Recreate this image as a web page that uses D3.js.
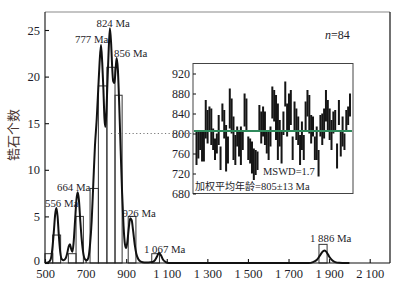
<!DOCTYPE html>
<html>
<head>
<meta charset="utf-8">
<script src="https://cdn.jsdelivr.net/npm/d3@7"></script>
<style>
  body { margin: 0; background: #fff; }
  svg { display: block; }
  text { font-family: "Liberation Serif", "Times New Roman", serif; fill: #1e1e2a; }
</style>
</head>
<body>
<div id="chart"></div>
<script>
// ---- data ----
// histogram bins (Ma) and zircon counts
const binLo  = [500, 538, 615, 653, 722, 763, 805, 845, 910, 1026, 1850];
const binHi  = [538, 577, 653, 689, 763, 805, 845, 880, 948, 1064, 1890];
const counts = [1, 3, 1, 5, 8, 19, 21, 18, 5, 1, 2];

// probability density curve, [age, value]
const curveAge = [500, 515, 528, 536, 544, 550, 556, 562, 568, 575, 583, 592, 602, 610, 617, 623, 629, 635, 641, 648,
  655, 661, 667, 674, 681, 689, 697, 706, 714, 722, 730, 738, 746, 755, 762, 769, 776, 782, 788, 793,
  797, 802, 808, 814, 820, 826, 831, 836, 842, 848, 853, 859, 866, 873, 880, 887, 894, 900, 906, 913,
  920, 927, 934, 942, 950, 960, 972, 990, 1010, 1030, 1042, 1052, 1062, 1072, 1082, 1095, 1110, 1300, 1500, 1700,
  1800, 1820, 1840, 1856, 1870, 1878, 1888, 1900, 1915, 1930, 1950, 1980, 2000];
const curveVal = [0, 0.05, 0.4, 1.5, 3.5, 5.2, 5.9, 5.0, 3.0, 1.2, 0.4, 0.3, 0.5, 1.1, 1.8, 2.0, 1.5, 1.2, 2.2, 4.5,
  6.8, 7.6, 6.8, 4.5, 2.5, 1.0, 0.4, 0.3, 0.6, 2.0, 4.5, 8.5, 12.5, 15.5, 18.5, 21.5, 23.4, 21.5, 18.5, 15.5,
  14.6, 16.0, 19.5, 23.0, 25.2, 23.5, 21.0, 19.5, 19.3, 20.8, 22.0, 20.8, 16.8, 12.0, 7.5, 4.0, 2.0, 1.6, 2.3, 3.8,
  4.8, 4.6, 3.5, 2.0, 1.0, 0.4, 0.15, 0.05, 0.05, 0.1, 0.3, 0.7, 1.1, 0.8, 0.35, 0.1, 0, 0, 0, 0,
  0, 0.1, 0.35, 0.85, 1.25, 1.35, 1.15, 0.7, 0.3, 0.1, 0.02, 0, 0];

const peakLabels = ["556 Ma", "664 Ma", "777 Ma", "824 Ma", "856 Ma", "926 Ma", "1 067 Ma", "1 886 Ma"];

// inset: single grain ages with 1 sigma (Ma), 84 grains
const ageHi = [804, 804, 807, 804, 804, 867, 847, 854, 850, 810, 790, 800, 837, 774, 860, 847, 817, 794, 890, 870,
  834, 797, 814, 807, 814, 804, 880, 870, 794, 790, 784, 770, 767, 764, 857, 844, 854, 844, 804, 807,
  814, 894, 887, 877, 860, 827, 807, 844, 904, 860, 880, 887, 794, 864, 850, 834, 797, 824, 797, 864,
  887, 877, 837, 834, 794, 814, 767, 837, 840, 850, 887, 867, 850, 827, 844, 847, 780, 867, 807, 834,
  800, 847, 854, 880];
const ageLo = [737, 750, 767, 744, 744, 790, 780, 807, 777, 767, 747, 760, 777, 727, 824, 790, 724, 740, 810, 800,
  747, 737, 774, 754, 737, 767, 814, 807, 747, 740, 720, 707, 717, 727, 804, 780, 794, 777, 760, 747,
  774, 830, 824, 787, 747, 774, 740, 797, 854, 794, 804, 817, 747, 804, 787, 777, 737, 767, 747, 807,
  834, 800, 780, 794, 747, 747, 714, 794, 777, 790, 824, 804, 787, 767, 800, 807, 730, 817, 754, 774,
  767, 804, 817, 834];
const meanAge = 805;
const yTicks = [0, 5, 10, 15, 20, 25];
const xTicks = [500, 700, 900, 1100, 1300, 1500, 1700, 1900, 2100];
const insetTicks = [680, 720, 760, 800, 840, 880, 920];

// ---- layout ----
const W = 402, H = 286;
const frame = {left: 45, right: 390, top: 12, bottom: 263};
const inset = {left: 193, right: 353, top: 63.5, bottom: 193.5};
// label anchor points [left x, baseline y]
const labelPos = [[45, 206.5], [57, 190.5], [75, 43], [96.5, 26.5], [114, 56.5], [122.5, 216.5], [144, 253], [310, 242]];

const svg = d3.select("#chart").append("svg")
    .attr("width", W)
    .attr("height", H);

const x = d3.scaleLinear().domain([500, 2200]).range([frame.left, frame.right]);
const y = d3.scaleLinear().domain([0, 25]).range([frame.bottom, 30]);

const fmt = d => d >= 1000 ? String(d).replace(/^(\d)/, "$1 ") : String(d);

// histogram
svg.append("g").selectAll("rect")
    .data(counts)
    .enter().append("rect")
    .attr("x", (d, i) => x(binLo[i]))
    .attr("width", (d, i) => x(binHi[i]) - x(binLo[i]))
    .attr("y", d => y(d))
    .attr("height", d => y(0) - y(d))
    .attr("fill", "none")
    .attr("stroke", "#333")
    .attr("stroke-width", 1);

// frame
svg.append("line").attr("x1", frame.left).attr("x2", frame.right).attr("y1", frame.top).attr("y2", frame.top)
    .attr("stroke", "#8a8a8a").attr("stroke-width", 1.2);
svg.append("line").attr("x1", frame.right).attr("x2", frame.right).attr("y1", frame.top).attr("y2", frame.bottom)
    .attr("stroke", "#111").attr("stroke-width", 1.2);

// axes
const xAxis = svg.append("g")
    .attr("transform", `translate(0,${frame.bottom})`)
    .call(d3.axisBottom(x).tickValues(xTicks).tickFormat(fmt).tickSizeInner(-4).tickSizeOuter(0).tickPadding(6));
const yAxis = svg.append("g")
    .attr("transform", `translate(${frame.left},0)`)
    .call(d3.axisLeft(y).tickValues(yTicks).tickSizeInner(-4).tickSizeOuter(0).tickPadding(5));
yAxis.select(".domain").attr("d", `M0,${frame.top}V${frame.bottom}`);
xAxis.select(".domain").attr("d", `M${frame.left},0H${frame.right}`);
[xAxis, yAxis].forEach(g => {
    g.selectAll("text").style("font-size", "12.5px").attr("fill", "#1e1e2a");
    g.selectAll("line, .domain").attr("stroke", "#111").attr("stroke-width", 1.1);
});
// lift the "0" label a little so it clears the "500" below it
yAxis.selectAll(".tick").filter(d => d === 0).select("text").attr("dy", "0.1em");

// density curve
const pts = curveAge.map((a, i) => [a, curveVal[i]]);
svg.append("path")
    .datum(pts)
    .attr("fill", "none")
    .attr("stroke", "#111")
    .attr("stroke-width", 2)
    .attr("stroke-linejoin", "round")
    .attr("d", d3.line().x(d => x(d[0])).y(d => y(d[1])).curve(d3.curveMonotoneX));

// peak labels
svg.append("g").selectAll("text")
    .data(peakLabels)
    .enter().append("text")
    .attr("x", (d, i) => labelPos[i][0])
    .attr("y", (d, i) => labelPos[i][1])
    .style("font-size", "10.8px")
    .text(d => d);

// y label
svg.append("text")
    .attr("transform", "translate(18,135) rotate(-90)")
    .attr("text-anchor", "middle")
    .style("font-family", "'Noto Sans CJK SC', sans-serif")
    .style("font-size", "13px")
    .style("fill", "#4a3530")
    .text("锆石个数");

// n=84
const nText = svg.append("text").attr("x", 325).attr("y", 39).style("font-size", "12px");
nText.append("tspan").style("font-style", "italic").text("n");
nText.append("tspan").text("=84");

// ---- inset ----
const iy = d3.scaleLinear().domain([680, 940]).range([inset.bottom, inset.top]);
const ix = d3.scaleLinear().domain([0, ageHi.length - 1]).range([inset.left + 3.5, inset.right - 3]);

// dotted connector
svg.append("line")
    .attr("x1", x(825)).attr("x2", inset.left)
    .attr("y1", iy(800)).attr("y2", iy(800))
    .attr("stroke", "#777").attr("stroke-width", 1)
    .attr("stroke-dasharray", "1.2,2.4");

svg.append("rect")
    .attr("x", inset.left).attr("y", inset.top)
    .attr("width", inset.right - inset.left).attr("height", inset.bottom - inset.top)
    .attr("fill", "#fff").attr("stroke", "#444").attr("stroke-width", 1);

svg.append("g").selectAll("rect")
    .data(ageHi)
    .enter().append("rect")
    .attr("x", (d, i) => ix(i) - 1)
    .attr("width", 2)
    .attr("y", d => iy(d))
    .attr("height", (d, i) => iy(ageLo[i]) - iy(d))
    .attr("fill", "#151515");

svg.append("line")
    .attr("x1", inset.left + 1).attr("x2", inset.right - 1)
    .attr("y1", iy(meanAge)).attr("y2", iy(meanAge))
    .attr("stroke", "#2f8a5c").attr("stroke-width", 2);

const insetAxis = svg.append("g")
    .attr("transform", `translate(${inset.left},0)`)
    .call(d3.axisLeft(iy).tickValues(insetTicks).tickSizeInner(-3).tickSizeOuter(0).tickPadding(3));
insetAxis.select(".domain").remove();
insetAxis.selectAll("line").attr("stroke", "#111");
insetAxis.selectAll("text").style("font-size", "12px").attr("fill", "#1e1e2a");

svg.append("text")
    .attr("x", 263).attr("y", 175)
    .style("font-size", "10.5px")
    .text("MSWD=1.7");

const wm = svg.append("text").attr("x", 195).attr("y", 190).style("font-size", "10.5px");
wm.append("tspan").style("font-family", "'Noto Sans CJK SC', sans-serif").style("font-size", "10px").text("加权平均年龄");
wm.append("tspan").text("=805±13 Ma");
</script>
</body>
</html>
